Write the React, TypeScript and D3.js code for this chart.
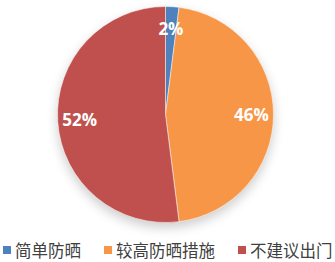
import React from "react";
import * as d3 from "d3";

const categories = ["简单防晒", "较高防晒措施", "不建议出门"];
const values = [2, 46, 52];
const colors = ["#4F81BD", "#F79646", "#C0504D"];

export default function App() {
  const W = 335, H = 262;
  const cx = 165.5, cy = 114.5, R = 108;
  const pie = d3.pie<number>().sort(null).value((d) => d)(values);
  const arc = d3.arc<d3.PieArcDatum<number>>().innerRadius(0).outerRadius(R);
  const labelArc = d3.arc<d3.PieArcDatum<number>>().innerRadius(86).outerRadius(86);
  const total = d3.sum(values);
  const legendX = [3, 104, 238];
  return (
    <svg width={W} height={H} style={{ position: "absolute", left: 0, top: 0, background: "#fff" }}
      fontFamily="'Noto Sans CJK SC', 'Open Sans', sans-serif">
      <defs>
        <filter id="sh" x="-30%" y="-30%" width="160%" height="160%">
          <feGaussianBlur stdDeviation="6" />
        </filter>
      </defs>
      <circle cx={cx} cy={cy + 5} r={R} fill="#000" opacity={0.2} filter="url(#sh)" />
      <g transform={`translate(${cx},${cy})`}>
        {pie.map((p, i) => (
          <path key={i} d={arc(p) || ""} fill={colors[i]} stroke="#fff" strokeWidth={0.5} />
        ))}
        {pie.map((p, i) => {
          const [x, y] = labelArc.centroid(p);
          return (
            <text key={i} x={x} y={y} textAnchor="middle" dominantBaseline="central"
              fill="#fff" fontWeight="bold" fontSize={17} fontFamily="'Open Sans', 'Liberation Sans', sans-serif">
              {Math.round((values[i] / total) * 100)}%
            </text>
          );
        })}
      </g>
      {categories.map((c, i) => (
        <g key={c} transform={`translate(${legendX[i]},250)`}>
          <rect x={0} y={-4} width={8} height={8} fill={colors[i]} />
          <text x={12} y={0} dominantBaseline="central" fontSize={16.5} fill="#404040">{c}</text>
        </g>
      ))}
    </svg>
  );
}
